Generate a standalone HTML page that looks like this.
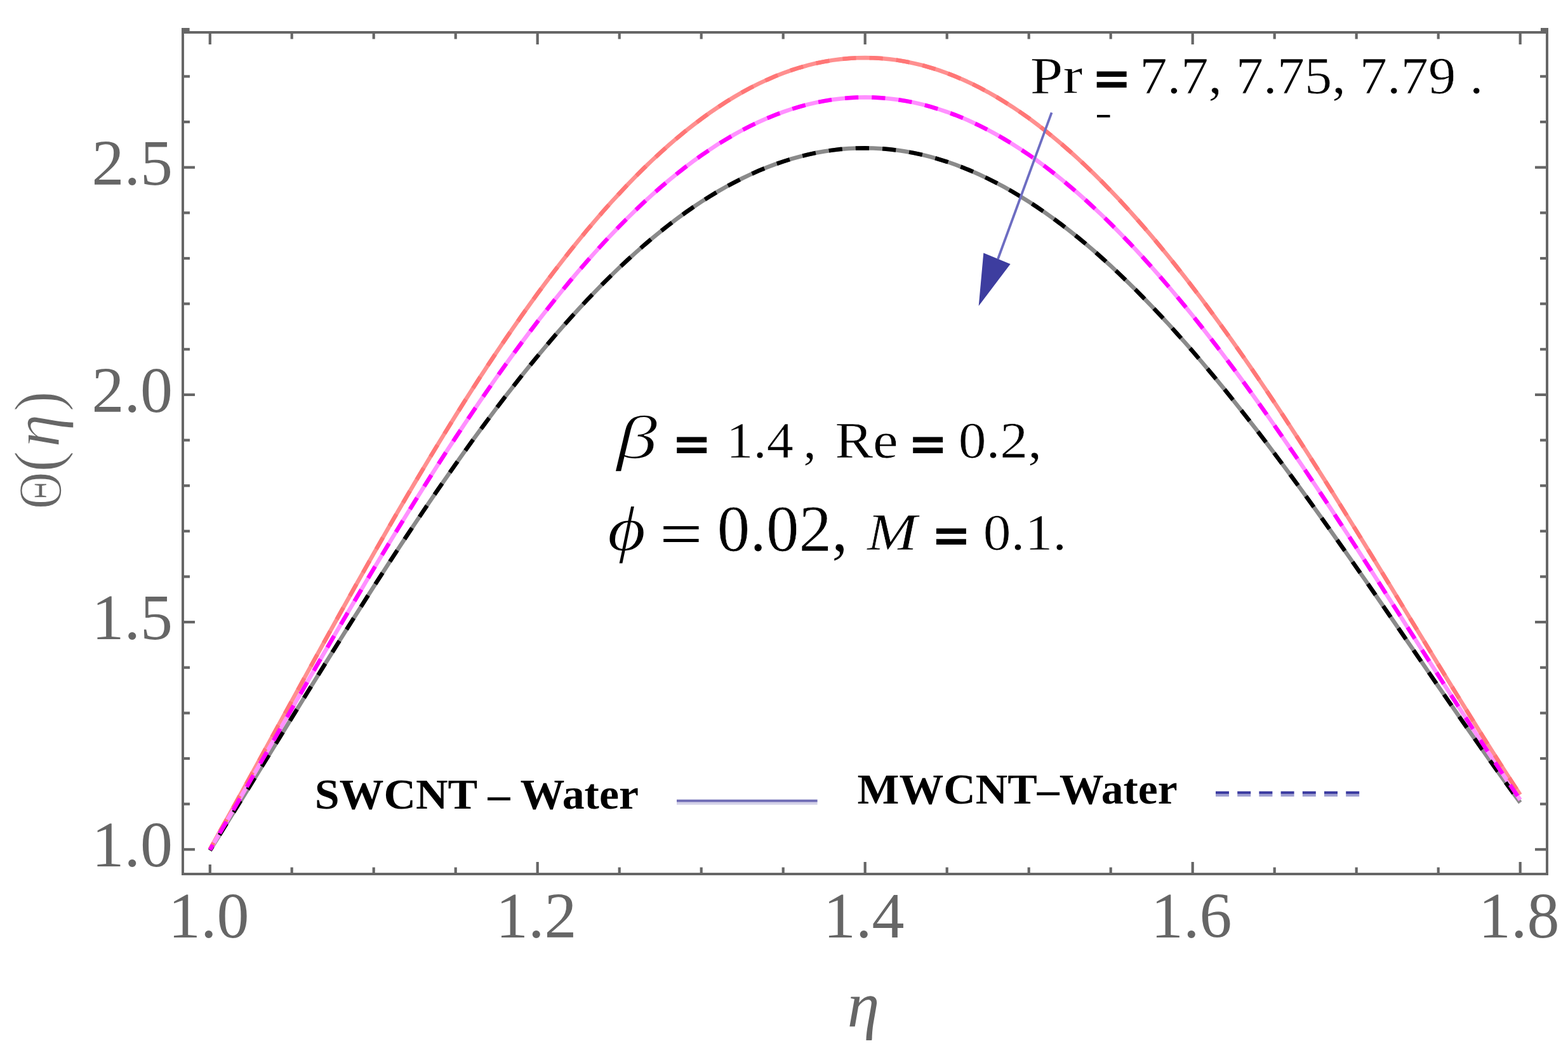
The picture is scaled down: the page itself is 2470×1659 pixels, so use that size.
<!DOCTYPE html>
<html><head><meta charset="utf-8"><style>
html,body{margin:0;padding:0;background:#fff;overflow:hidden;}
svg{display:block;}
</style></head><body>
<svg width="2470" height="1659" viewBox="0 0 2470 1659">
<rect width="2470" height="1659" fill="#fff"/>
<rect x="288" y="51" width="2149" height="1326" fill="none" stroke="#666666" stroke-width="4"/>
<line x1="330.8" y1="53" x2="330.8" y2="70" stroke="#666666" stroke-width="4.2"/>
<line x1="330.8" y1="1375" x2="330.8" y2="1362" stroke="#666666" stroke-width="4.2"/>
<line x1="459.7" y1="53" x2="459.7" y2="61.5" stroke="#666666" stroke-width="4.2"/>
<line x1="459.7" y1="1375" x2="459.7" y2="1366.5" stroke="#666666" stroke-width="4.2"/>
<line x1="588.7" y1="53" x2="588.7" y2="61.5" stroke="#666666" stroke-width="4.2"/>
<line x1="588.7" y1="1375" x2="588.7" y2="1366.5" stroke="#666666" stroke-width="4.2"/>
<line x1="717.7" y1="53" x2="717.7" y2="61.5" stroke="#666666" stroke-width="4.2"/>
<line x1="717.7" y1="1375" x2="717.7" y2="1366.5" stroke="#666666" stroke-width="4.2"/>
<line x1="846.7" y1="53" x2="846.7" y2="70" stroke="#666666" stroke-width="4.2"/>
<line x1="846.7" y1="1375" x2="846.7" y2="1358" stroke="#666666" stroke-width="4.2"/>
<line x1="975.7" y1="53" x2="975.7" y2="61.5" stroke="#666666" stroke-width="4.2"/>
<line x1="975.7" y1="1375" x2="975.7" y2="1366.5" stroke="#666666" stroke-width="4.2"/>
<line x1="1104.7" y1="53" x2="1104.7" y2="61.5" stroke="#666666" stroke-width="4.2"/>
<line x1="1104.7" y1="1375" x2="1104.7" y2="1366.5" stroke="#666666" stroke-width="4.2"/>
<line x1="1233.7" y1="53" x2="1233.7" y2="61.5" stroke="#666666" stroke-width="4.2"/>
<line x1="1233.7" y1="1375" x2="1233.7" y2="1366.5" stroke="#666666" stroke-width="4.2"/>
<line x1="1362.7" y1="53" x2="1362.7" y2="70" stroke="#666666" stroke-width="4.2"/>
<line x1="1362.7" y1="1375" x2="1362.7" y2="1358" stroke="#666666" stroke-width="4.2"/>
<line x1="1491.7" y1="53" x2="1491.7" y2="61.5" stroke="#666666" stroke-width="4.2"/>
<line x1="1491.7" y1="1375" x2="1491.7" y2="1366.5" stroke="#666666" stroke-width="4.2"/>
<line x1="1620.7" y1="53" x2="1620.7" y2="61.5" stroke="#666666" stroke-width="4.2"/>
<line x1="1620.7" y1="1375" x2="1620.7" y2="1366.5" stroke="#666666" stroke-width="4.2"/>
<line x1="1749.7" y1="53" x2="1749.7" y2="61.5" stroke="#666666" stroke-width="4.2"/>
<line x1="1749.7" y1="1375" x2="1749.7" y2="1366.5" stroke="#666666" stroke-width="4.2"/>
<line x1="1878.7" y1="53" x2="1878.7" y2="70" stroke="#666666" stroke-width="4.2"/>
<line x1="1878.7" y1="1375" x2="1878.7" y2="1358" stroke="#666666" stroke-width="4.2"/>
<line x1="2007.7" y1="53" x2="2007.7" y2="61.5" stroke="#666666" stroke-width="4.2"/>
<line x1="2007.7" y1="1375" x2="2007.7" y2="1366.5" stroke="#666666" stroke-width="4.2"/>
<line x1="2136.7" y1="53" x2="2136.7" y2="61.5" stroke="#666666" stroke-width="4.2"/>
<line x1="2136.7" y1="1375" x2="2136.7" y2="1366.5" stroke="#666666" stroke-width="4.2"/>
<line x1="2265.7" y1="53" x2="2265.7" y2="61.5" stroke="#666666" stroke-width="4.2"/>
<line x1="2265.7" y1="1375" x2="2265.7" y2="1366.5" stroke="#666666" stroke-width="4.2"/>
<line x1="2394.7" y1="53" x2="2394.7" y2="70" stroke="#666666" stroke-width="4.2"/>
<line x1="2394.7" y1="1375" x2="2394.7" y2="1358" stroke="#666666" stroke-width="4.2"/>
<line x1="290" y1="1338.3" x2="307" y2="1338.3" stroke="#666666" stroke-width="4.2"/>
<line x1="2435" y1="1338.3" x2="2418" y2="1338.3" stroke="#666666" stroke-width="4.2"/>
<line x1="290" y1="1266.7" x2="299" y2="1266.7" stroke="#666666" stroke-width="4.2"/>
<line x1="2435" y1="1266.7" x2="2426" y2="1266.7" stroke="#666666" stroke-width="4.2"/>
<line x1="290" y1="1195.0" x2="299" y2="1195.0" stroke="#666666" stroke-width="4.2"/>
<line x1="2435" y1="1195.0" x2="2426" y2="1195.0" stroke="#666666" stroke-width="4.2"/>
<line x1="290" y1="1123.4" x2="299" y2="1123.4" stroke="#666666" stroke-width="4.2"/>
<line x1="2435" y1="1123.4" x2="2426" y2="1123.4" stroke="#666666" stroke-width="4.2"/>
<line x1="290" y1="1051.7" x2="299" y2="1051.7" stroke="#666666" stroke-width="4.2"/>
<line x1="2435" y1="1051.7" x2="2426" y2="1051.7" stroke="#666666" stroke-width="4.2"/>
<line x1="290" y1="980.1" x2="307" y2="980.1" stroke="#666666" stroke-width="4.2"/>
<line x1="2435" y1="980.1" x2="2418" y2="980.1" stroke="#666666" stroke-width="4.2"/>
<line x1="290" y1="908.5" x2="299" y2="908.5" stroke="#666666" stroke-width="4.2"/>
<line x1="2435" y1="908.5" x2="2426" y2="908.5" stroke="#666666" stroke-width="4.2"/>
<line x1="290" y1="836.8" x2="299" y2="836.8" stroke="#666666" stroke-width="4.2"/>
<line x1="2435" y1="836.8" x2="2426" y2="836.8" stroke="#666666" stroke-width="4.2"/>
<line x1="290" y1="765.2" x2="299" y2="765.2" stroke="#666666" stroke-width="4.2"/>
<line x1="2435" y1="765.2" x2="2426" y2="765.2" stroke="#666666" stroke-width="4.2"/>
<line x1="290" y1="693.5" x2="299" y2="693.5" stroke="#666666" stroke-width="4.2"/>
<line x1="2435" y1="693.5" x2="2426" y2="693.5" stroke="#666666" stroke-width="4.2"/>
<line x1="290" y1="621.9" x2="307" y2="621.9" stroke="#666666" stroke-width="4.2"/>
<line x1="2435" y1="621.9" x2="2418" y2="621.9" stroke="#666666" stroke-width="4.2"/>
<line x1="290" y1="550.3" x2="299" y2="550.3" stroke="#666666" stroke-width="4.2"/>
<line x1="2435" y1="550.3" x2="2426" y2="550.3" stroke="#666666" stroke-width="4.2"/>
<line x1="290" y1="478.6" x2="299" y2="478.6" stroke="#666666" stroke-width="4.2"/>
<line x1="2435" y1="478.6" x2="2426" y2="478.6" stroke="#666666" stroke-width="4.2"/>
<line x1="290" y1="407.0" x2="299" y2="407.0" stroke="#666666" stroke-width="4.2"/>
<line x1="2435" y1="407.0" x2="2426" y2="407.0" stroke="#666666" stroke-width="4.2"/>
<line x1="290" y1="335.3" x2="299" y2="335.3" stroke="#666666" stroke-width="4.2"/>
<line x1="2435" y1="335.3" x2="2426" y2="335.3" stroke="#666666" stroke-width="4.2"/>
<line x1="290" y1="263.7" x2="307" y2="263.7" stroke="#666666" stroke-width="4.2"/>
<line x1="2435" y1="263.7" x2="2418" y2="263.7" stroke="#666666" stroke-width="4.2"/>
<line x1="290" y1="192.1" x2="299" y2="192.1" stroke="#666666" stroke-width="4.2"/>
<line x1="2435" y1="192.1" x2="2426" y2="192.1" stroke="#666666" stroke-width="4.2"/>
<line x1="290" y1="120.4" x2="299" y2="120.4" stroke="#666666" stroke-width="4.2"/>
<line x1="2435" y1="120.4" x2="2426" y2="120.4" stroke="#666666" stroke-width="4.2"/>
<rect x="286" y="44" width="12.6" height="6" fill="#666666"/>
<rect x="2427" y="44" width="12" height="6" fill="#666666"/>
<text x="328.8" y="1477" font-family="Liberation Serif, serif" font-size="102" fill="#666666" text-anchor="middle">1.0</text>
<text x="844.7" y="1477" font-family="Liberation Serif, serif" font-size="102" fill="#666666" text-anchor="middle">1.2</text>
<text x="1360.7" y="1477" font-family="Liberation Serif, serif" font-size="102" fill="#666666" text-anchor="middle">1.4</text>
<text x="1876.7" y="1477" font-family="Liberation Serif, serif" font-size="102" fill="#666666" text-anchor="middle">1.6</text>
<text x="2392.7" y="1477" font-family="Liberation Serif, serif" font-size="102" fill="#666666" text-anchor="middle">1.8</text>
<text x="272" y="1365.3" font-family="Liberation Serif, serif" font-size="102" fill="#666666" text-anchor="end">1.0</text>
<text x="272" y="1007.1" font-family="Liberation Serif, serif" font-size="102" fill="#666666" text-anchor="end">1.5</text>
<text x="272" y="648.9" font-family="Liberation Serif, serif" font-size="102" fill="#666666" text-anchor="end">2.0</text>
<text x="272" y="290.7" font-family="Liberation Serif, serif" font-size="102" fill="#666666" text-anchor="end">2.5</text>
<text x="1360" y="1617" font-family="Liberation Serif, serif" font-size="102" font-style="italic" fill="#666666" text-anchor="middle">η</text>
<g transform="translate(97,0) rotate(-90)"><text transform="translate(-802.0,-0.7) scale(0.829,1)" font-family="Liberation Serif, serif" font-size="97.6" fill="#666666" stroke="#fff" stroke-width="1.4">Θ</text><text transform="translate(-743.8,-3.5) scale(0.962,1)" font-family="Liberation Serif, serif" font-size="104.0" fill="#666666" stroke="#fff" stroke-width="1.4">(</text><text transform="translate(-704.9,-4.2) scale(1.0,1)" font-family="Liberation Serif, serif" font-size="106.0" font-style="italic" fill="#666666" stroke="#fff" stroke-width="1.4">η</text><text transform="translate(-648.2,-3.5) scale(0.922,1)" font-family="Liberation Serif, serif" font-size="104.0" fill="#666666" stroke="#fff" stroke-width="1.4">)</text></g>
<path d="M330.8,1339.8 L343.6,1319.2 L356.5,1298.4 L369.4,1277.6 L382.3,1256.7 L395.2,1235.8 L408.1,1214.8 L421.0,1193.8 L433.9,1172.8 L446.8,1151.8 L459.7,1130.8 L472.6,1109.9 L485.5,1088.9 L498.4,1068.1 L511.3,1047.3 L524.2,1026.5 L537.1,1005.9 L550.0,985.3 L562.9,964.9 L575.8,944.5 L588.7,924.3 L601.6,904.2 L614.5,884.3 L627.4,864.5 L640.3,844.9 L653.2,825.5 L666.1,806.3 L679.0,787.2 L691.9,768.4 L704.8,749.8 L717.7,731.4 L730.6,713.2 L743.5,695.2 L756.4,677.5 L769.3,660.1 L782.2,642.9 L795.1,626.0 L808.0,609.4 L820.9,593.1 L833.8,577.0 L846.7,561.2 L859.6,545.8 L872.5,530.7 L885.4,515.8 L898.3,501.3 L911.2,487.2 L924.1,473.4 L937.0,459.9 L949.9,446.7 L962.8,434.0 L975.7,421.5 L988.6,409.5 L1001.5,397.8 L1014.4,386.4 L1027.3,375.5 L1040.2,364.9 L1053.1,354.7 L1066.0,344.9 L1078.9,335.5 L1091.8,326.5 L1104.7,317.9 L1117.6,309.7 L1130.5,301.9 L1143.4,294.5 L1156.3,287.6 L1169.2,281.0 L1182.1,274.9 L1195.0,269.1 L1207.9,263.8 L1220.8,258.9 L1233.7,254.5 L1246.6,250.4 L1259.5,246.8 L1272.4,243.6 L1285.3,240.8 L1298.2,238.5 L1311.1,236.6 L1324.0,235.1 L1336.9,234.1 L1349.8,233.5 L1362.7,233.3 L1375.6,233.5 L1388.5,234.2 L1401.4,235.3 L1414.3,236.8 L1427.2,238.8 L1440.1,241.1 L1453.0,243.9 L1465.9,247.1 L1478.8,250.8 L1491.7,254.8 L1504.6,259.3 L1517.5,264.2 L1530.4,269.5 L1543.3,275.2 L1556.2,281.3 L1569.1,287.8 L1582.0,294.7 L1594.9,302.0 L1607.8,309.7 L1620.7,317.8 L1633.6,326.2 L1646.5,335.1 L1659.4,344.3 L1672.3,353.9 L1685.2,363.8 L1698.1,374.1 L1711.0,384.8 L1723.9,395.8 L1736.8,407.2 L1749.7,418.9 L1762.6,431.0 L1775.5,443.4 L1788.4,456.0 L1801.3,469.1 L1814.2,482.4 L1827.1,496.0 L1840.0,509.9 L1852.9,524.2 L1865.8,538.7 L1878.7,553.4 L1891.6,568.5 L1904.5,583.8 L1917.4,599.3 L1930.3,615.1 L1943.2,631.2 L1956.1,647.4 L1969.0,663.9 L1981.9,680.6 L1994.8,697.5 L2007.7,714.6 L2020.6,731.9 L2033.5,749.3 L2046.4,766.9 L2059.3,784.7 L2072.2,802.6 L2085.1,820.6 L2098.0,838.8 L2110.9,857.1 L2123.8,875.5 L2136.7,894.0 L2149.6,912.5 L2162.5,931.1 L2175.4,949.8 L2188.3,968.6 L2201.2,987.3 L2214.1,1006.1 L2227.0,1024.9 L2239.9,1043.7 L2252.8,1062.5 L2265.7,1081.3 L2278.6,1100.0 L2291.5,1118.7 L2304.4,1137.3 L2317.3,1155.8 L2330.2,1174.2 L2343.1,1192.6 L2356.0,1210.8 L2368.9,1228.8 L2381.8,1246.8 L2394.7,1264.5" fill="none" stroke="#8a8a8a" stroke-width="6.5"/>
<path d="M330.8,1338.0 L343.6,1314.9 L356.5,1291.8 L369.4,1268.5 L382.3,1245.2 L395.2,1221.7 L408.1,1198.3 L421.0,1174.8 L433.9,1151.3 L446.8,1127.7 L459.7,1104.2 L472.6,1080.7 L485.5,1057.2 L498.4,1033.8 L511.3,1010.4 L524.2,987.1 L537.1,963.9 L550.0,940.8 L562.9,917.8 L575.8,895.0 L588.7,872.2 L601.6,849.6 L614.5,827.2 L627.4,804.9 L640.3,782.9 L653.2,761.0 L666.1,739.3 L679.0,717.8 L691.9,696.6 L704.8,675.6 L717.7,654.8 L730.6,634.3 L743.5,614.1 L756.4,594.1 L769.3,574.4 L782.2,555.0 L795.1,535.9 L808.0,517.1 L820.9,498.7 L833.8,480.5 L846.7,462.7 L859.6,445.3 L872.5,428.1 L885.4,411.4 L898.3,395.0 L911.2,379.0 L924.1,363.3 L937.0,348.1 L949.9,333.2 L962.8,318.7 L975.7,304.7 L988.6,291.0 L1001.5,277.8 L1014.4,264.9 L1027.3,252.5 L1040.2,240.6 L1053.1,229.0 L1066.0,217.9 L1078.9,207.3 L1091.8,197.1 L1104.7,187.3 L1117.6,178.0 L1130.5,169.2 L1143.4,160.8 L1156.3,152.9 L1169.2,145.4 L1182.1,138.4 L1195.0,131.9 L1207.9,125.9 L1220.8,120.3 L1233.7,115.2 L1246.6,110.6 L1259.5,106.5 L1272.4,102.9 L1285.3,99.7 L1298.2,97.1 L1311.1,94.9 L1324.0,93.2 L1336.9,92.0 L1349.8,91.3 L1362.7,91.0 L1375.6,91.3 L1388.5,92.0 L1401.4,93.2 L1414.3,94.9 L1427.2,97.1 L1440.1,99.8 L1453.0,102.9 L1465.9,106.6 L1478.8,110.6 L1491.7,115.2 L1504.6,120.3 L1517.5,125.8 L1530.4,131.7 L1543.3,138.2 L1556.2,145.0 L1569.1,152.4 L1582.0,160.2 L1594.9,168.4 L1607.8,177.1 L1620.7,186.2 L1633.6,195.8 L1646.5,205.8 L1659.4,216.2 L1672.3,227.0 L1685.2,238.3 L1698.1,249.9 L1711.0,262.0 L1723.9,274.4 L1736.8,287.3 L1749.7,300.5 L1762.6,314.1 L1775.5,328.1 L1788.4,342.5 L1801.3,357.2 L1814.2,372.2 L1827.1,387.6 L1840.0,403.3 L1852.9,419.4 L1865.8,435.8 L1878.7,452.4 L1891.6,469.4 L1904.5,486.7 L1917.4,504.3 L1930.3,522.1 L1943.2,540.2 L1956.1,558.5 L1969.0,577.1 L1981.9,596.0 L1994.8,615.0 L2007.7,634.3 L2020.6,653.8 L2033.5,673.5 L2046.4,693.3 L2059.3,713.3 L2072.2,733.5 L2085.1,753.8 L2098.0,774.3 L2110.9,794.9 L2123.8,815.6 L2136.7,836.4 L2149.6,857.3 L2162.5,878.3 L2175.4,899.3 L2188.3,920.3 L2201.2,941.4 L2214.1,962.6 L2227.0,983.7 L2239.9,1004.8 L2252.8,1025.9 L2265.7,1047.0 L2278.6,1068.0 L2291.5,1088.9 L2304.4,1109.8 L2317.3,1130.5 L2330.2,1151.2 L2343.1,1171.7 L2356.0,1192.1 L2368.9,1212.3 L2381.8,1232.3 L2394.7,1252.1" fill="none" stroke="#ff8f8f" stroke-width="6.5"/>
<path d="M330.8,1338.9 L343.6,1317.0 L356.5,1295.0 L369.4,1272.8 L382.3,1250.7 L395.2,1228.4 L408.1,1206.1 L421.0,1183.7 L433.9,1161.4 L446.8,1139.0 L459.7,1116.6 L472.6,1094.3 L485.5,1072.0 L498.4,1049.7 L511.3,1027.5 L524.2,1005.4 L537.1,983.3 L550.0,961.3 L562.9,939.5 L575.8,917.7 L588.7,896.1 L601.6,874.6 L614.5,853.3 L627.4,832.1 L640.3,811.1 L653.2,790.3 L666.1,769.7 L679.0,749.3 L691.9,729.1 L704.8,709.1 L717.7,689.4 L730.6,669.9 L743.5,650.7 L756.4,631.7 L769.3,613.0 L782.2,594.5 L795.1,576.4 L808.0,558.5 L820.9,541.0 L833.8,523.7 L846.7,506.8 L859.6,490.2 L872.5,473.9 L885.4,458.0 L898.3,442.4 L911.2,427.2 L924.1,412.3 L937.0,397.8 L949.9,383.6 L962.8,369.9 L975.7,356.5 L988.6,343.5 L1001.5,330.9 L1014.4,318.7 L1027.3,306.9 L1040.2,295.5 L1053.1,284.6 L1066.0,274.0 L1078.9,263.9 L1091.8,254.2 L1104.7,244.9 L1117.6,236.1 L1130.5,227.6 L1143.4,219.7 L1156.3,212.1 L1169.2,205.0 L1182.1,198.4 L1195.0,192.2 L1207.9,186.5 L1220.8,181.2 L1233.7,176.4 L1246.6,172.0 L1259.5,168.1 L1272.4,164.6 L1285.3,161.6 L1298.2,159.1 L1311.1,157.0 L1324.0,155.4 L1336.9,154.2 L1349.8,153.6 L1362.7,153.3 L1375.6,153.6 L1388.5,154.3 L1401.4,155.4 L1414.3,157.0 L1427.2,159.1 L1440.1,161.6 L1453.0,164.6 L1465.9,168.1 L1478.8,172.0 L1491.7,176.3 L1504.6,181.1 L1517.5,186.3 L1530.4,192.0 L1543.3,198.1 L1556.2,204.7 L1569.1,211.7 L1582.0,219.1 L1594.9,226.9 L1607.8,235.2 L1620.7,243.9 L1633.6,253.0 L1646.5,262.5 L1659.4,272.4 L1672.3,282.7 L1685.2,293.4 L1698.1,304.5 L1711.0,316.0 L1723.9,327.8 L1736.8,340.0 L1749.7,352.6 L1762.6,365.6 L1775.5,378.9 L1788.4,392.5 L1801.3,406.5 L1814.2,420.9 L1827.1,435.5 L1840.0,450.5 L1852.9,465.8 L1865.8,481.4 L1878.7,497.3 L1891.6,513.4 L1904.5,529.9 L1917.4,546.6 L1930.3,563.6 L1943.2,580.8 L1956.1,598.3 L1969.0,616.0 L1981.9,634.0 L1994.8,652.1 L2007.7,670.5 L2020.6,689.1 L2033.5,707.8 L2046.4,726.7 L2059.3,745.8 L2072.2,765.0 L2085.1,784.4 L2098.0,803.9 L2110.9,823.6 L2123.8,843.3 L2136.7,863.1 L2149.6,883.1 L2162.5,903.0 L2175.4,923.1 L2188.3,943.2 L2201.2,963.3 L2214.1,983.5 L2227.0,1003.6 L2239.9,1023.8 L2252.8,1043.9 L2265.7,1064.0 L2278.6,1084.1 L2291.5,1104.1 L2304.4,1124.0 L2317.3,1143.8 L2330.2,1163.6 L2343.1,1183.2 L2356.0,1202.6 L2368.9,1222.0 L2381.8,1241.1 L2394.7,1260.1" fill="none" stroke="#ff90ff" stroke-width="6.5"/>
<path d="M330.8,1339.8 L343.6,1319.2 L356.5,1298.4 L369.4,1277.6 L382.3,1256.7 L395.2,1235.8 L408.1,1214.8 L421.0,1193.8 L433.9,1172.8 L446.8,1151.8 L459.7,1130.8 L472.6,1109.9 L485.5,1088.9 L498.4,1068.1 L511.3,1047.3 L524.2,1026.5 L537.1,1005.9 L550.0,985.3 L562.9,964.9 L575.8,944.5 L588.7,924.3 L601.6,904.2 L614.5,884.3 L627.4,864.5 L640.3,844.9 L653.2,825.5 L666.1,806.3 L679.0,787.2 L691.9,768.4 L704.8,749.8 L717.7,731.4 L730.6,713.2 L743.5,695.2 L756.4,677.5 L769.3,660.1 L782.2,642.9 L795.1,626.0 L808.0,609.4 L820.9,593.1 L833.8,577.0 L846.7,561.2 L859.6,545.8 L872.5,530.7 L885.4,515.8 L898.3,501.3 L911.2,487.2 L924.1,473.4 L937.0,459.9 L949.9,446.7 L962.8,434.0 L975.7,421.5 L988.6,409.5 L1001.5,397.8 L1014.4,386.4 L1027.3,375.5 L1040.2,364.9 L1053.1,354.7 L1066.0,344.9 L1078.9,335.5 L1091.8,326.5 L1104.7,317.9 L1117.6,309.7 L1130.5,301.9 L1143.4,294.5 L1156.3,287.6 L1169.2,281.0 L1182.1,274.9 L1195.0,269.1 L1207.9,263.8 L1220.8,258.9 L1233.7,254.5 L1246.6,250.4 L1259.5,246.8 L1272.4,243.6 L1285.3,240.8 L1298.2,238.5 L1311.1,236.6 L1324.0,235.1 L1336.9,234.1 L1349.8,233.5 L1362.7,233.3 L1375.6,233.5 L1388.5,234.2 L1401.4,235.3 L1414.3,236.8 L1427.2,238.8 L1440.1,241.1 L1453.0,243.9 L1465.9,247.1 L1478.8,250.8 L1491.7,254.8 L1504.6,259.3 L1517.5,264.2 L1530.4,269.5 L1543.3,275.2 L1556.2,281.3 L1569.1,287.8 L1582.0,294.7 L1594.9,302.0 L1607.8,309.7 L1620.7,317.8 L1633.6,326.2 L1646.5,335.1 L1659.4,344.3 L1672.3,353.9 L1685.2,363.8 L1698.1,374.1 L1711.0,384.8 L1723.9,395.8 L1736.8,407.2 L1749.7,418.9 L1762.6,431.0 L1775.5,443.4 L1788.4,456.0 L1801.3,469.1 L1814.2,482.4 L1827.1,496.0 L1840.0,509.9 L1852.9,524.2 L1865.8,538.7 L1878.7,553.4 L1891.6,568.5 L1904.5,583.8 L1917.4,599.3 L1930.3,615.1 L1943.2,631.2 L1956.1,647.4 L1969.0,663.9 L1981.9,680.6 L1994.8,697.5 L2007.7,714.6 L2020.6,731.9 L2033.5,749.3 L2046.4,766.9 L2059.3,784.7 L2072.2,802.6 L2085.1,820.6 L2098.0,838.8 L2110.9,857.1 L2123.8,875.5 L2136.7,894.0 L2149.6,912.5 L2162.5,931.1 L2175.4,949.8 L2188.3,968.6 L2201.2,987.3 L2214.1,1006.1 L2227.0,1024.9 L2239.9,1043.7 L2252.8,1062.5 L2265.7,1081.3 L2278.6,1100.0 L2291.5,1118.7 L2304.4,1137.3 L2317.3,1155.8 L2330.2,1174.2 L2343.1,1192.6 L2356.0,1210.8 L2368.9,1228.8 L2381.8,1246.8 L2394.7,1264.5" fill="none" stroke="#000000" stroke-width="6.5" stroke-dasharray="21.2 21.1" stroke-dashoffset="13.86"/>
<path d="M330.8,1338.0 L343.6,1314.9 L356.5,1291.8 L369.4,1268.5 L382.3,1245.2 L395.2,1221.7 L408.1,1198.3 L421.0,1174.8 L433.9,1151.3 L446.8,1127.7 L459.7,1104.2 L472.6,1080.7 L485.5,1057.2 L498.4,1033.8 L511.3,1010.4 L524.2,987.1 L537.1,963.9 L550.0,940.8 L562.9,917.8 L575.8,895.0 L588.7,872.2 L601.6,849.6 L614.5,827.2 L627.4,804.9 L640.3,782.9 L653.2,761.0 L666.1,739.3 L679.0,717.8 L691.9,696.6 L704.8,675.6 L717.7,654.8 L730.6,634.3 L743.5,614.1 L756.4,594.1 L769.3,574.4 L782.2,555.0 L795.1,535.9 L808.0,517.1 L820.9,498.7 L833.8,480.5 L846.7,462.7 L859.6,445.3 L872.5,428.1 L885.4,411.4 L898.3,395.0 L911.2,379.0 L924.1,363.3 L937.0,348.1 L949.9,333.2 L962.8,318.7 L975.7,304.7 L988.6,291.0 L1001.5,277.8 L1014.4,264.9 L1027.3,252.5 L1040.2,240.6 L1053.1,229.0 L1066.0,217.9 L1078.9,207.3 L1091.8,197.1 L1104.7,187.3 L1117.6,178.0 L1130.5,169.2 L1143.4,160.8 L1156.3,152.9 L1169.2,145.4 L1182.1,138.4 L1195.0,131.9 L1207.9,125.9 L1220.8,120.3 L1233.7,115.2 L1246.6,110.6 L1259.5,106.5 L1272.4,102.9 L1285.3,99.7 L1298.2,97.1 L1311.1,94.9 L1324.0,93.2 L1336.9,92.0 L1349.8,91.3 L1362.7,91.0 L1375.6,91.3 L1388.5,92.0 L1401.4,93.2 L1414.3,94.9 L1427.2,97.1 L1440.1,99.8 L1453.0,102.9 L1465.9,106.6 L1478.8,110.6 L1491.7,115.2 L1504.6,120.3 L1517.5,125.8 L1530.4,131.7 L1543.3,138.2 L1556.2,145.0 L1569.1,152.4 L1582.0,160.2 L1594.9,168.4 L1607.8,177.1 L1620.7,186.2 L1633.6,195.8 L1646.5,205.8 L1659.4,216.2 L1672.3,227.0 L1685.2,238.3 L1698.1,249.9 L1711.0,262.0 L1723.9,274.4 L1736.8,287.3 L1749.7,300.5 L1762.6,314.1 L1775.5,328.1 L1788.4,342.5 L1801.3,357.2 L1814.2,372.2 L1827.1,387.6 L1840.0,403.3 L1852.9,419.4 L1865.8,435.8 L1878.7,452.4 L1891.6,469.4 L1904.5,486.7 L1917.4,504.3 L1930.3,522.1 L1943.2,540.2 L1956.1,558.5 L1969.0,577.1 L1981.9,596.0 L1994.8,615.0 L2007.7,634.3 L2020.6,653.8 L2033.5,673.5 L2046.4,693.3 L2059.3,713.3 L2072.2,733.5 L2085.1,753.8 L2098.0,774.3 L2110.9,794.9 L2123.8,815.6 L2136.7,836.4 L2149.6,857.3 L2162.5,878.3 L2175.4,899.3 L2188.3,920.3 L2201.2,941.4 L2214.1,962.6 L2227.0,983.7 L2239.9,1004.8 L2252.8,1025.9 L2265.7,1047.0 L2278.6,1068.0 L2291.5,1088.9 L2304.4,1109.8 L2317.3,1130.5 L2330.2,1151.2 L2343.1,1171.7 L2356.0,1192.1 L2368.9,1212.3 L2381.8,1232.3 L2394.7,1252.1" fill="none" stroke="#ff7676" stroke-width="6.5" stroke-dasharray="21.2 21.1" stroke-dashoffset="9.46"/>
<path d="M330.8,1338.9 L343.6,1317.0 L356.5,1295.0 L369.4,1272.8 L382.3,1250.7 L395.2,1228.4 L408.1,1206.1 L421.0,1183.7 L433.9,1161.4 L446.8,1139.0 L459.7,1116.6 L472.6,1094.3 L485.5,1072.0 L498.4,1049.7 L511.3,1027.5 L524.2,1005.4 L537.1,983.3 L550.0,961.3 L562.9,939.5 L575.8,917.7 L588.7,896.1 L601.6,874.6 L614.5,853.3 L627.4,832.1 L640.3,811.1 L653.2,790.3 L666.1,769.7 L679.0,749.3 L691.9,729.1 L704.8,709.1 L717.7,689.4 L730.6,669.9 L743.5,650.7 L756.4,631.7 L769.3,613.0 L782.2,594.5 L795.1,576.4 L808.0,558.5 L820.9,541.0 L833.8,523.7 L846.7,506.8 L859.6,490.2 L872.5,473.9 L885.4,458.0 L898.3,442.4 L911.2,427.2 L924.1,412.3 L937.0,397.8 L949.9,383.6 L962.8,369.9 L975.7,356.5 L988.6,343.5 L1001.5,330.9 L1014.4,318.7 L1027.3,306.9 L1040.2,295.5 L1053.1,284.6 L1066.0,274.0 L1078.9,263.9 L1091.8,254.2 L1104.7,244.9 L1117.6,236.1 L1130.5,227.6 L1143.4,219.7 L1156.3,212.1 L1169.2,205.0 L1182.1,198.4 L1195.0,192.2 L1207.9,186.5 L1220.8,181.2 L1233.7,176.4 L1246.6,172.0 L1259.5,168.1 L1272.4,164.6 L1285.3,161.6 L1298.2,159.1 L1311.1,157.0 L1324.0,155.4 L1336.9,154.2 L1349.8,153.6 L1362.7,153.3 L1375.6,153.6 L1388.5,154.3 L1401.4,155.4 L1414.3,157.0 L1427.2,159.1 L1440.1,161.6 L1453.0,164.6 L1465.9,168.1 L1478.8,172.0 L1491.7,176.3 L1504.6,181.1 L1517.5,186.3 L1530.4,192.0 L1543.3,198.1 L1556.2,204.7 L1569.1,211.7 L1582.0,219.1 L1594.9,226.9 L1607.8,235.2 L1620.7,243.9 L1633.6,253.0 L1646.5,262.5 L1659.4,272.4 L1672.3,282.7 L1685.2,293.4 L1698.1,304.5 L1711.0,316.0 L1723.9,327.8 L1736.8,340.0 L1749.7,352.6 L1762.6,365.6 L1775.5,378.9 L1788.4,392.5 L1801.3,406.5 L1814.2,420.9 L1827.1,435.5 L1840.0,450.5 L1852.9,465.8 L1865.8,481.4 L1878.7,497.3 L1891.6,513.4 L1904.5,529.9 L1917.4,546.6 L1930.3,563.6 L1943.2,580.8 L1956.1,598.3 L1969.0,616.0 L1981.9,634.0 L1994.8,652.1 L2007.7,670.5 L2020.6,689.1 L2033.5,707.8 L2046.4,726.7 L2059.3,745.8 L2072.2,765.0 L2085.1,784.4 L2098.0,803.9 L2110.9,823.6 L2123.8,843.3 L2136.7,863.1 L2149.6,883.1 L2162.5,903.0 L2175.4,923.1 L2188.3,943.2 L2201.2,963.3 L2214.1,983.5 L2227.0,1003.6 L2239.9,1023.8 L2252.8,1043.9 L2265.7,1064.0 L2278.6,1084.1 L2291.5,1104.1 L2304.4,1124.0 L2317.3,1143.8 L2330.2,1163.6 L2343.1,1183.2 L2356.0,1202.6 L2368.9,1222.0 L2381.8,1241.1 L2394.7,1260.1" fill="none" stroke="#ff00ff" stroke-width="6.5" stroke-dasharray="21.2 21.1" stroke-dashoffset="12.19"/>
<text transform="translate(1622.7,146.5) scale(1.127,1)" font-family="Liberation Serif, serif" font-size="82.5" fill="#000" stroke="#fff" stroke-width="0.6">Pr</text>
<text x="1719.7" y="149.4" font-family="DejaVu Sans, sans-serif" font-size="75" fill="#000" font-weight="bold">=</text>
<text transform="translate(1795.2,146.5) scale(1.05,1)" font-family="Liberation Serif, serif" font-size="82.5" fill="#000" stroke="#fff" stroke-width="0.6">7.7, 7.75, 7.79 .</text>
<text transform="translate(970.8,722.3) scale(1.331,1)" font-family="Liberation Serif, serif" font-size="97.7" fill="#000" font-style="italic" stroke="#fff" stroke-width="1.6">β</text>
<text x="1058.2" y="725.0" font-family="DejaVu Sans, sans-serif" font-size="75.0" fill="#000" font-weight="bold">=</text>
<text transform="translate(1144.3,721) scale(1.043,1)" font-family="Liberation Serif, serif" font-size="81" fill="#000" stroke="#fff" stroke-width="0.6">1.4</text>
<text x="1265.5" y="721" font-family="Liberation Serif, serif" font-size="81" fill="#000" stroke="#fff" stroke-width="0.5">,</text>
<text transform="translate(1315.4,721) scale(1.105,1)" font-family="Liberation Serif, serif" font-size="81" fill="#000" stroke="#fff" stroke-width="0.6">Re</text>
<text x="1430.2" y="725.0" font-family="DejaVu Sans, sans-serif" font-size="75.0" fill="#000" font-weight="bold">=</text>
<text transform="translate(1509.7,721) scale(1.081,1)" font-family="Liberation Serif, serif" font-size="81" fill="#000" stroke="#fff" stroke-width="0.6">0.2,</text>
<text transform="translate(957.1,867.2) scale(1.181,1)" font-family="Liberation Serif, serif" font-size="98.4" fill="#000" font-style="italic" stroke="#fff" stroke-width="1.2">ϕ</text>
<text transform="translate(1039.3,875.2) scale(1.177,1)" font-family="Liberation Serif, serif" font-size="101.2" fill="#000">=</text>
<text x="1129.7" y="868.2" font-family="Liberation Serif, serif" font-size="103.0" fill="#000" stroke="#fff" stroke-width="0.6">0.02,</text>
<text transform="translate(1366.0,866) scale(1.159,1)" font-family="Liberation Serif, serif" font-size="81.5" fill="#000" font-style="italic" stroke="#fff" stroke-width="0.6">M</text>
<text x="1466.9" y="868.5" font-family="DejaVu Sans, sans-serif" font-size="75" fill="#000" font-weight="bold">=</text>
<text transform="translate(1548.8,866) scale(1.08,1)" font-family="Liberation Serif, serif" font-size="81" fill="#000" stroke="#fff" stroke-width="0.6">0.1.</text>
<text transform="translate(495.7,1273.6) scale(1.027,1)" font-family="Liberation Serif, serif" font-size="68.1" fill="#000" font-weight="bold">SWCNT – Water</text>
<text transform="translate(1350.6,1266.1) scale(1.041,1)" font-family="Liberation Serif, serif" font-size="67.1" fill="#000" font-weight="bold">MWCNT–Water</text>
<rect x="1728" y="181" width="20.5" height="4" fill="#000"/>
<rect x="1066" y="1259.7" width="221.6" height="4.1" fill="#6f6cb5"/>
<rect x="1066" y="1263.8" width="221.6" height="4" fill="#d3d1e8"/>
<rect x="1915.0" y="1246.7" width="21" height="4.2" fill="#3a3aa0"/>
<rect x="1915.0" y="1250.9" width="21" height="4.1" fill="#a0a0d2"/>
<rect x="1949.2" y="1246.7" width="21" height="4.2" fill="#3a3aa0"/>
<rect x="1949.2" y="1250.9" width="21" height="4.1" fill="#a0a0d2"/>
<rect x="1983.4" y="1246.7" width="21" height="4.2" fill="#3a3aa0"/>
<rect x="1983.4" y="1250.9" width="21" height="4.1" fill="#a0a0d2"/>
<rect x="2017.6" y="1246.7" width="21" height="4.2" fill="#3a3aa0"/>
<rect x="2017.6" y="1250.9" width="21" height="4.1" fill="#a0a0d2"/>
<rect x="2051.8" y="1246.7" width="21" height="4.2" fill="#3a3aa0"/>
<rect x="2051.8" y="1250.9" width="21" height="4.1" fill="#a0a0d2"/>
<rect x="2086.0" y="1246.7" width="21" height="4.2" fill="#3a3aa0"/>
<rect x="2086.0" y="1250.9" width="21" height="4.1" fill="#a0a0d2"/>
<rect x="2120.2" y="1246.7" width="21" height="4.2" fill="#3a3aa0"/>
<rect x="2120.2" y="1250.9" width="21" height="4.1" fill="#a0a0d2"/>
<line x1="1656.6" y1="177.3" x2="1572" y2="408" stroke="#6d6dc2" stroke-width="3.8"/>
<polygon points="1549.3,398.6 1591.6,416 1541.7,482" fill="#3d3d9f"/>
</svg>
</body></html>
